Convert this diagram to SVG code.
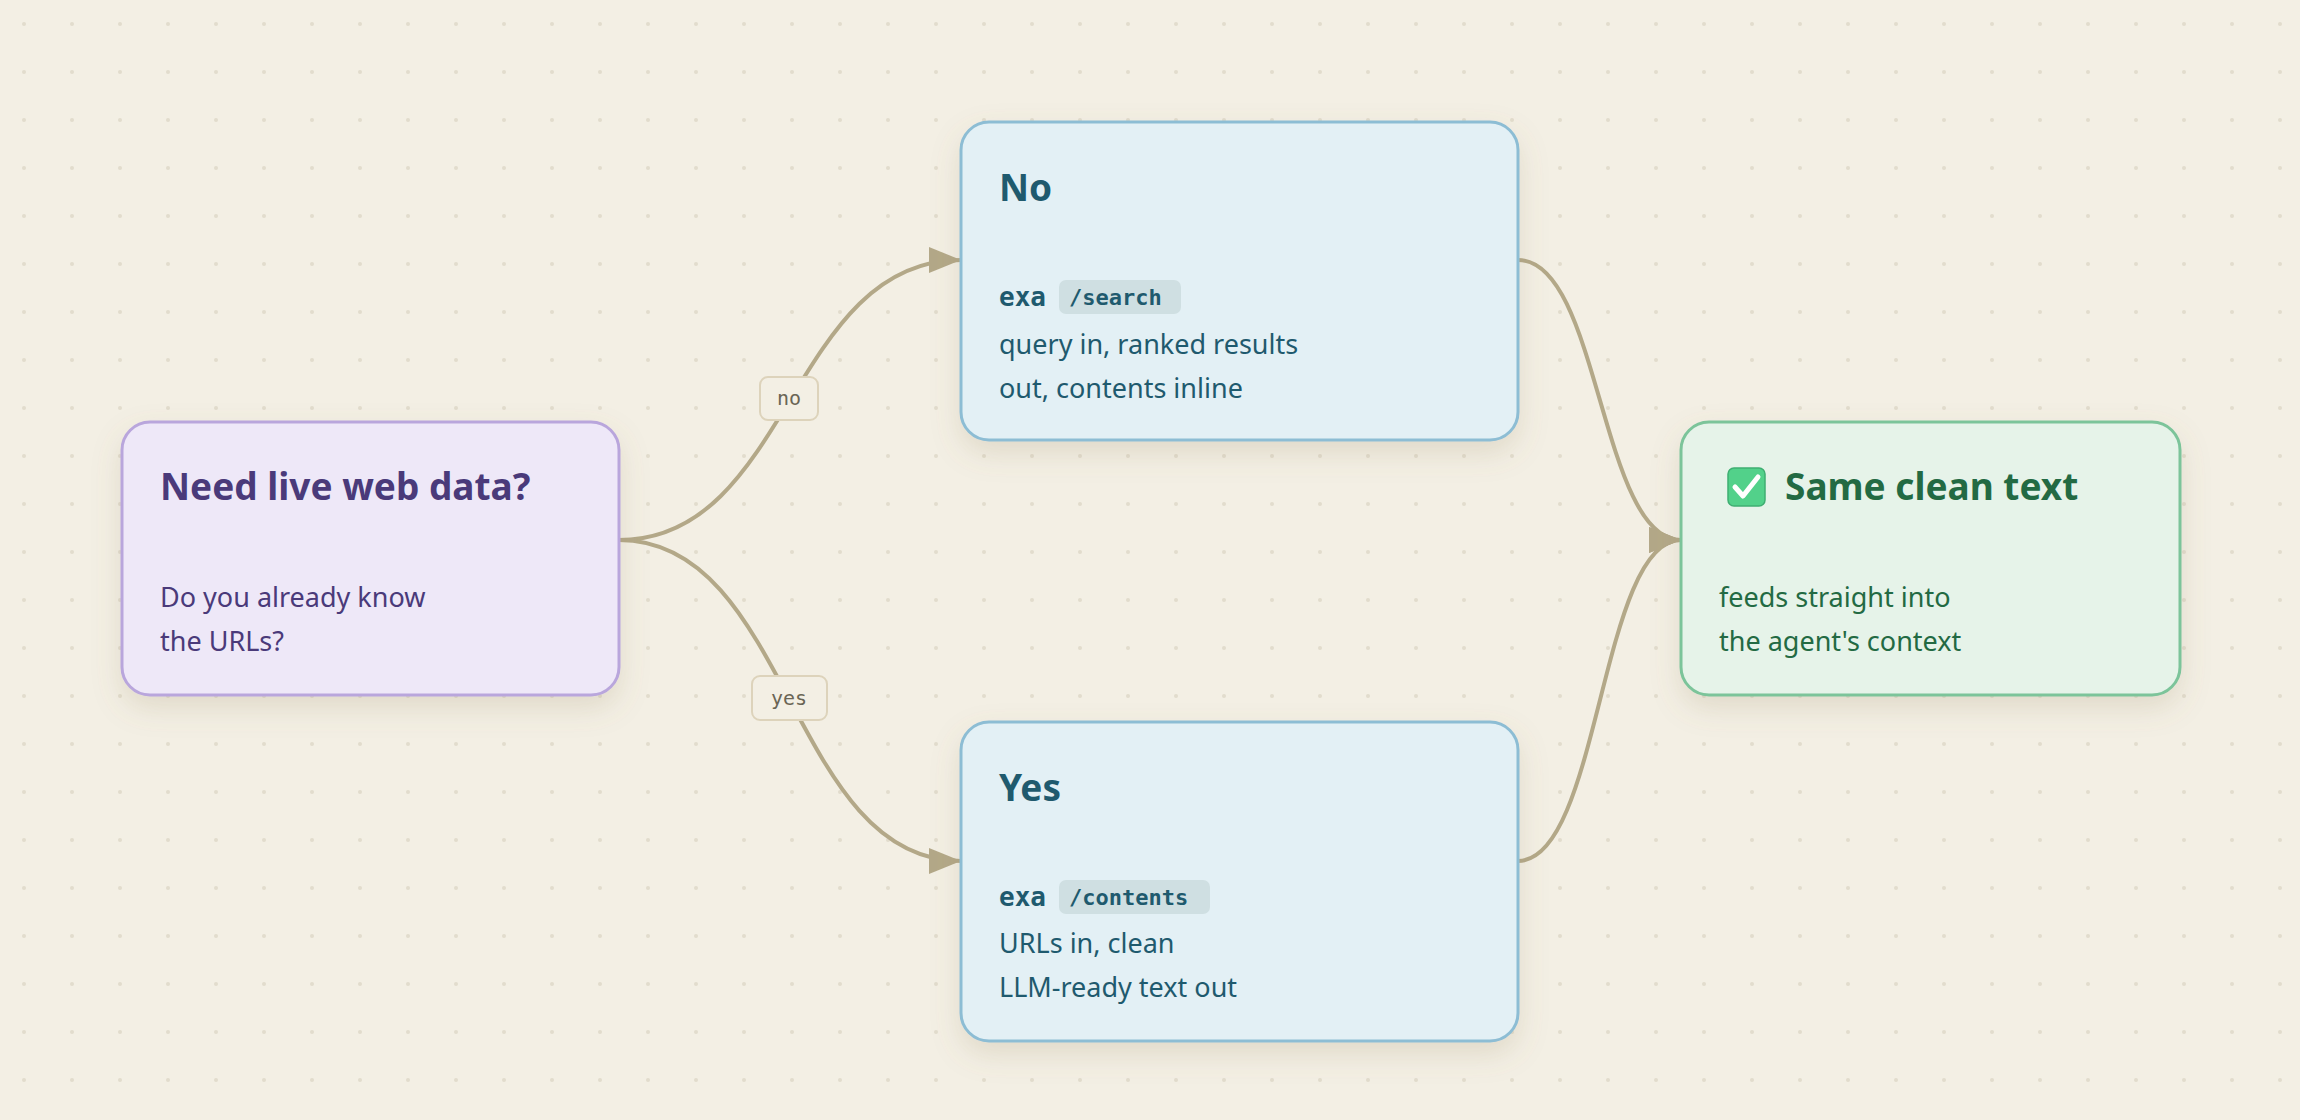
<svg xmlns="http://www.w3.org/2000/svg" width="2300" height="1120" viewBox="0 0 2300 1120">
<defs>
<pattern id="dots" x="0" y="0" width="48" height="48" patternUnits="userSpaceOnUse"><circle cx="24" cy="24" r="2" fill="#e2dccd"/></pattern>
<filter id="sh" x="-20%" y="-20%" width="140%" height="150%"><feDropShadow dx="0" dy="12" stdDeviation="14" flood-color="#8a7a50" flood-opacity="0.18"/></filter>
<marker id="ah" viewBox="0 0 32 26" refX="32" refY="13" markerWidth="32" markerHeight="26" markerUnits="userSpaceOnUse" orient="auto"><path d="M0,0 L32,13 L0,26 Z" fill="#b3a888"/></marker>
<style>
.t{font-family:"Noto Sans","Open Sans",sans-serif;font-weight:700;font-size:37px}
.b{font-family:"Noto Sans","Open Sans",sans-serif;font-size:27px}
.m{font-family:"DejaVu Sans Mono","Liberation Mono",monospace;font-weight:700;font-size:22px}
.x{font-family:"DejaVu Sans Mono","Liberation Mono",monospace;font-weight:700;font-size:26px}
.e{fill:none;stroke:#b3a888;stroke-width:4}
.lp{fill:#f3efe4;stroke:#ddd3bb;stroke-width:2}
.lt{font-family:"DejaVu Sans Mono","Liberation Mono",monospace;font-size:20px;fill:#6a6555}
</style>
</defs>
<rect width="2300" height="1120" fill="#f3efe4"/>
<rect width="2300" height="1120" fill="url(#dots)"/>
<g id="connectors">
<path class="e" d="M619,540 C790,540 790,260 961,260" marker-end="url(#ah)"/>
<path class="e" d="M619,540 C790,540 790,861 961,861" marker-end="url(#ah)"/>
<path class="e" d="M1518,260 C1600,260 1600,540 1681,540" marker-end="url(#ah)"/>
<path class="e" d="M1518,861 C1600,861 1600,540 1681,540" marker-end="url(#ah)"/>
<rect class="lp" x="760" y="377" width="58" height="43" rx="8"/>
<text class="lt" x="789" y="405" text-anchor="middle">no</text>
<rect class="lp" x="752" y="676" width="75" height="44" rx="8"/>
<text class="lt" x="789" y="705" text-anchor="middle">yes</text>
</g>
<g id="decision">
<rect x="122" y="422" width="497" height="273" rx="28" fill="#eee8f8" stroke="#b9a6dc" stroke-width="3" filter="url(#sh)"/>
<text class="t" x="160" y="500" fill="#4a3a7a">Need live web data?</text>
<text class="b" x="160" y="607" fill="#4a3a7a">Do you already know</text>
<text class="b" x="160" y="651" fill="#4a3a7a">the URLs?</text>
</g>
<g id="no">
<rect x="961" y="122" width="557" height="318" rx="28" fill="#e3f0f5" stroke="#8dbdd4" stroke-width="3" filter="url(#sh)"/>
<text class="t" x="999" y="201" fill="#1f5a6e">No</text>
<text class="x" x="999" y="306" fill="#1f5a6e">exa</text>
<rect x="1059" y="280" width="122" height="34" rx="7" fill="#cfdfe2"/>
<text class="m" x="1069" y="305" fill="#1f5a6e">/search</text>
<text class="b" x="999" y="354" fill="#1f5a6e">query in, ranked results</text>
<text class="b" x="999" y="398" fill="#1f5a6e">out, contents inline</text>
</g>
<g id="yes">
<rect x="961" y="722" width="557" height="319" rx="28" fill="#e3f0f5" stroke="#8dbdd4" stroke-width="3" filter="url(#sh)"/>
<text class="t" x="999" y="801" fill="#1f5a6e">Yes</text>
<text class="x" x="999" y="906" fill="#1f5a6e">exa</text>
<rect x="1059" y="880" width="151" height="34" rx="7" fill="#cfdfe2"/>
<text class="m" x="1069" y="905" fill="#1f5a6e">/contents</text>
<text class="b" x="999" y="953" fill="#1f5a6e">URLs in, clean</text>
<text class="b" x="999" y="997" fill="#1f5a6e">LLM-ready text out</text>
</g>
<g id="result">
<rect x="1681" y="422" width="499" height="273" rx="28" fill="#e6f3e9" stroke="#7cc49a" stroke-width="3" filter="url(#sh)"/>
<rect x="1728" y="468" width="37" height="38" rx="6" fill="#52d18a" stroke="#3fae72" stroke-width="1.5"/>
<path d="M1735,487 L1743,496 L1758,477" fill="none" stroke="#ffffff" stroke-width="5" stroke-linecap="round" stroke-linejoin="round"/>
<text class="t" x="1785" y="500" fill="#236a43">Same clean text</text>
<text class="b" x="1719" y="607" fill="#236a43">feeds straight into</text>
<text class="b" x="1719" y="651" fill="#236a43">the agent's context</text>
</g>
</svg>
